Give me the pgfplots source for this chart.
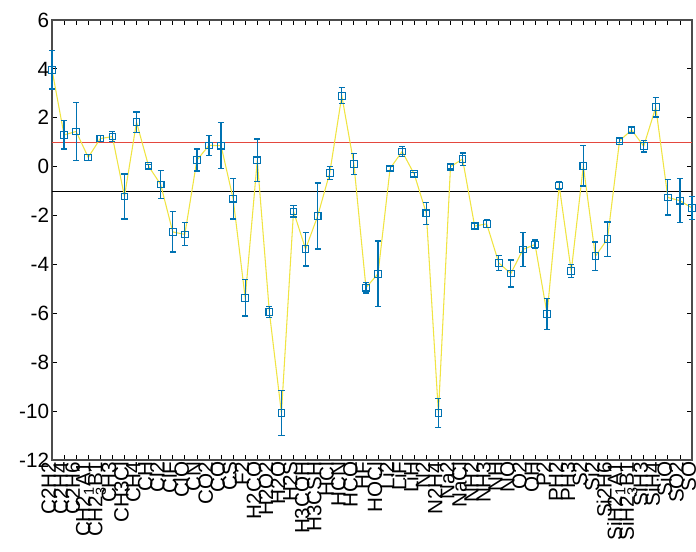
\documentclass[border=0pt]{standalone}
\usepackage{fontspec}
\setmainfont{Liberation Sans}
\usepackage{pgfplots}
\pgfplotsset{compat=1.18}
\usepackage{pgfplotstable}
\definecolor{ylw}{RGB}{240,228,66}
\definecolor{blu}{RGB}{0,114,178}
\definecolor{rd}{RGB}{228,72,62}
\pgfplotstableread{
x y e
0 3.96 0.78
1 1.30 0.58
2 1.44 1.18
3 0.38 0.12
4 1.15 0.12
5 1.23 0.20
6 -1.22 0.92
7 1.82 0.42
8 0.02 0.08
9 -0.73 0.58
10 -2.67 0.82
11 -2.77 0.47
12 0.27 0.45
13 0.87 0.40
14 0.86 0.95
15 -1.31 0.83
16 -5.37 0.74
17 0.26 0.87
18 -5.94 0.22
19 -10.08 0.92
20 -1.83 0.23
21 -3.37 0.69
22 -2.02 1.35
23 -0.26 0.27
24 2.90 0.33
25 0.11 0.43
26 -4.95 0.22
27 -4.38 1.34
28 -0.07 0.08
29 0.62 0.20
30 -0.31 0.08
31 -1.91 0.46
32 -10.08 0.60
33 0.00 0.08
34 0.31 0.25
35 -2.43 0.10
36 -2.34 0.16
37 -3.94 0.30
38 -4.37 0.55
39 -3.39 0.70
40 -3.18 0.18
41 -6.02 0.64
42 -0.77 0.17
43 -4.28 0.27
44 0.03 0.82
45 -3.66 0.58
46 -2.96 0.70
47 1.06 0.08
48 1.50 0.10
49 0.84 0.24
50 2.43 0.40
51 -1.26 0.72
52 -1.39 0.90
53 -1.69 0.48
}\datatable
\begin{document}
\fontsize{15.5}{18}\selectfont
\begin{tikzpicture}
\begin{axis}[
  scale only axis, width=480pt, height=330pt,
  xmin=0, xmax=53, ymin=-12, ymax=6,
  ytick={-12,-10,...,6},
  xtick={0,...,53},
  xticklabels={C2H2,C2H4,C2H6,CH2\textsubscript{1}A1,CH2\textsubscript{3}B1,CH3,CH3Cl,CH4,CH,Cl2,ClF,ClO,CN,CO2,CO,CS,F2,H2CO,H2O2,H2O,H2S,H3COH,H3CSH,HCl,HCN,HCO,HF,HOCl,Li2,LiF,LiH,N2,N2H4,Na2,NaCl,NH2,NH3,NH,NO,O2,OH,P2,PH2,PH3,S2,Si2,Si2H6,SiH2\textsubscript{1}A1,SiH2\textsubscript{3}B1,SiH3,SiH4,SiO,SO2,SO},
  xticklabel style={rotate=90, anchor=east, inner sep=1pt, yshift=2.5pt},
  yticklabel style={inner sep=2pt},
  tick align=inside,
  major tick length=4pt,
  axis line style={black!70, line width=0.8pt},
  tick style={black, line width=0.6pt},
  /pgf/number format/assume math mode=true,
  tick label style={font=\fontsize{15.5}{18}\selectfont},
  clip=false,
]
\addplot[rd, line width=1pt] coordinates {(0,1) (53,1)};
\addplot[black, line width=0.8pt] coordinates {(0,-1) (53,-1)};
\addplot[ylw, line width=0.8pt] table[x=x, y=y] {\datatable};
\addplot[blu, only marks, mark=square, mark size=2.5pt, mark options={line width=0.8pt},
  error bars/.cd, y dir=both, y explicit,
  error bar style={line width=0.9pt, blu},
  error mark options={rotate=90, mark size=2.3pt, line width=0.9pt, blu}]
  table[x=x, y=y, y error=e] {\datatable};
\end{axis}
\pgfresetboundingbox
\path ([shift={(-39pt,-68.25pt)}]current axis.south west) rectangle ([shift={(3pt,15pt)}]current axis.north east);
\end{tikzpicture}
\end{document}
